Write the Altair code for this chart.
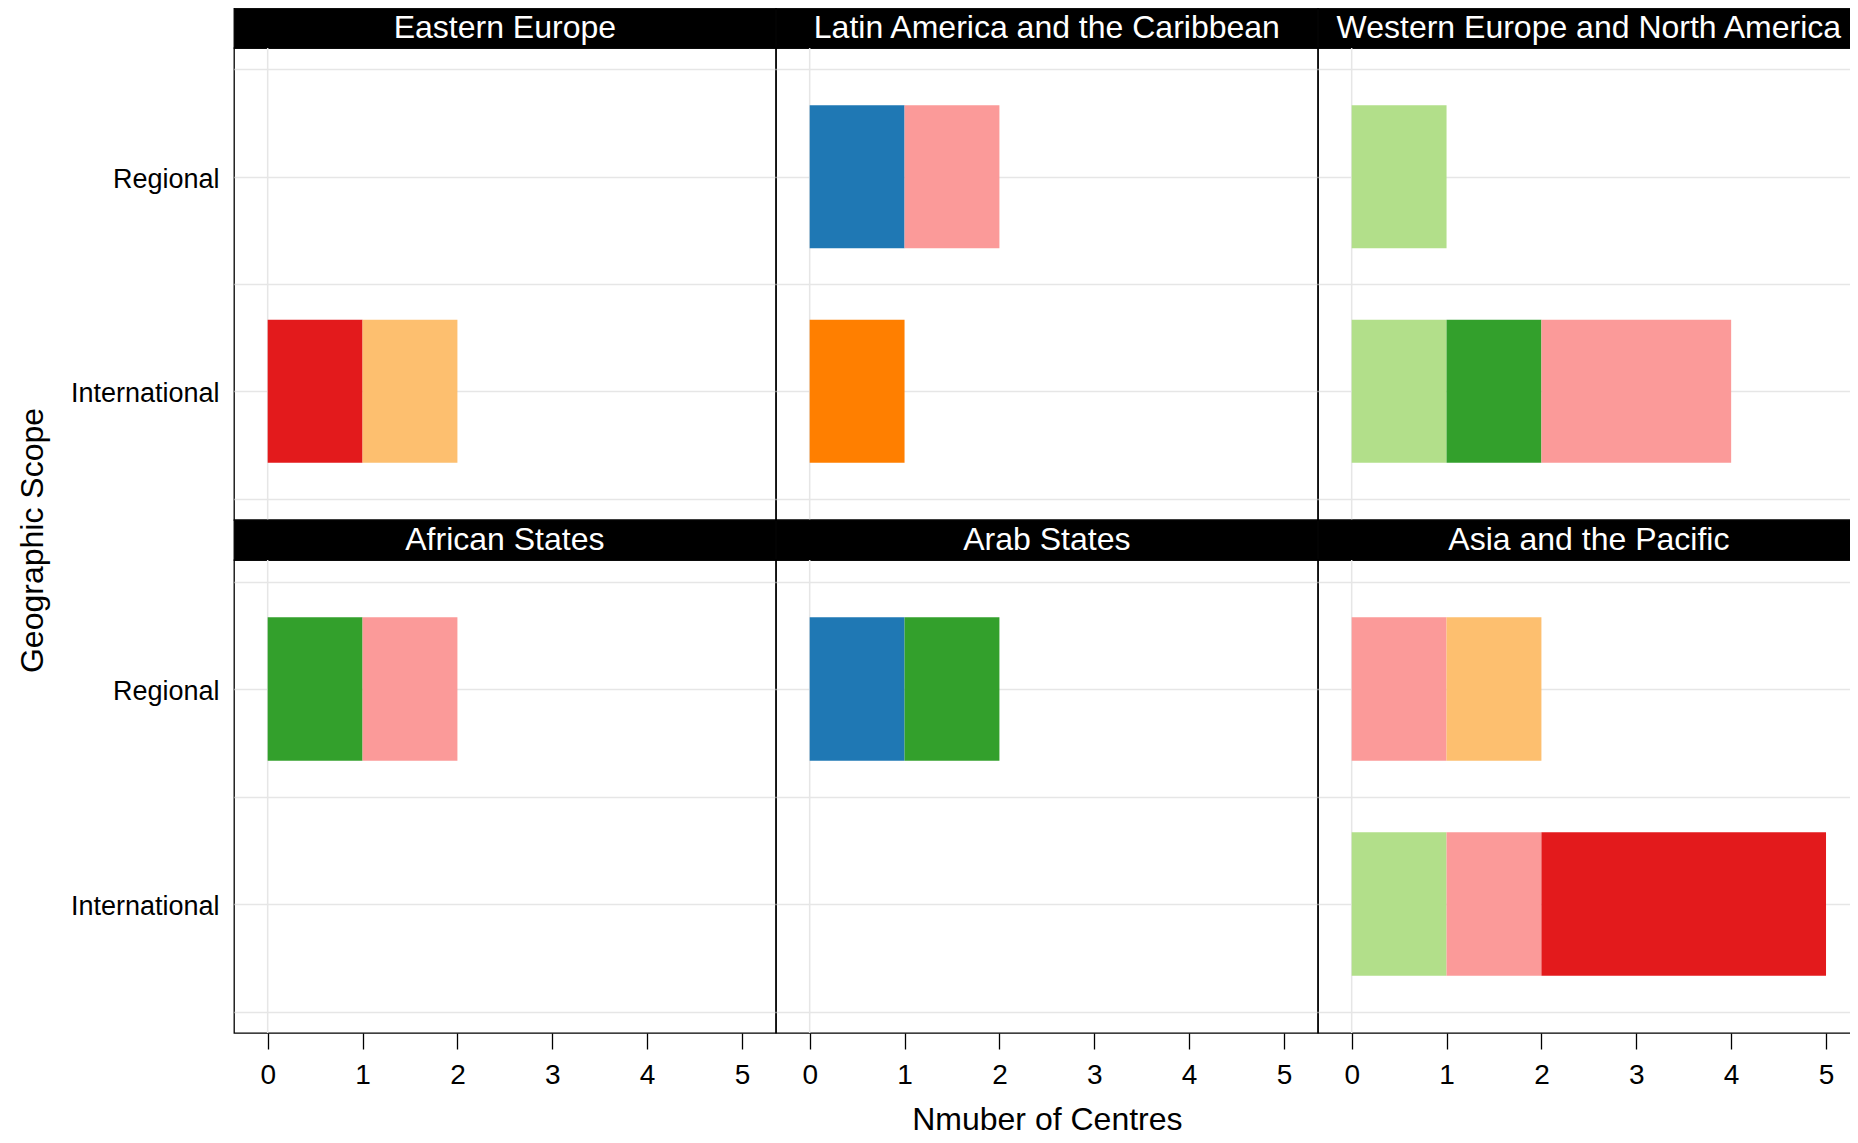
import altair as alt
import pandas as pd

# ---------------- data ----------------
panel_regions = [
    "Eastern Europe", "Latin America and the Caribbean", "Western Europe and North America",
    "African States", "Arab States", "Asia and the Pacific",
]
scopes = ["Regional", "International"]
categories = ["Category 1", "Category 2", "Category 3", "Category 4",
              "Category 5", "Category 6", "Category 7", "Category 8"]
colors = ["#A6CEE3", "#1F78B4", "#B2DF8A", "#33A02C",
          "#FB9A99", "#E31A1C", "#FDBF6F", "#FF7F00"]

seg_region = [
    "Eastern Europe", "Eastern Europe",
    "Latin America and the Caribbean", "Latin America and the Caribbean", "Latin America and the Caribbean",
    "Western Europe and North America", "Western Europe and North America",
    "Western Europe and North America", "Western Europe and North America",
    "African States", "African States",
    "Arab States", "Arab States",
    "Asia and the Pacific", "Asia and the Pacific", "Asia and the Pacific",
    "Asia and the Pacific", "Asia and the Pacific",
]
seg_scope = [
    "International", "International",
    "Regional", "Regional", "International",
    "Regional", "International", "International", "International",
    "Regional", "Regional",
    "Regional", "Regional",
    "Regional", "Regional", "International", "International", "International",
]
seg_category = [6, 7, 2, 5, 8, 3, 3, 4, 5, 4, 5, 2, 4, 5, 7, 3, 5, 6]
seg_count = [1, 1, 1, 1, 1, 1, 1, 1, 2, 1, 1, 1, 1, 1, 1, 1, 1, 3]

x_ticks = [0, 1, 2, 3, 4, 5]
x_domain = [-0.355, 5.355]
grid_levels = [0.5, 1, 1.5, 2, 2.5]
y_domain_num = [0.4, 2.6]

df = pd.DataFrame({
    "region": seg_region,
    "scope": seg_scope,
    "category": [categories[i - 1] for i in seg_category],
    "corder": seg_category,
    "count": seg_count,
})

W = 541.7
H_STRIP = 40
H_PLOT_TOP = 472
H_PLOT_BOTTOM = 473
FONT = "Liberation Sans"
SVG_W = 1842
SVG_H = 1127
LEFT = 226


def strip_cell(region):
    return (
        alt.Chart(alt.Data(values=[{"region": region}]))
        .mark_text(color="white", fontSize=32, baseline="alphabetic", align="center", font=FONT)
        .encode(text="region:N", x=alt.value(W / 2), y=alt.value(30))
        .properties(width=W, height=H_STRIP,
                    view=alt.ViewBackground(fill="black", stroke="black"))
    )


def plot_cell(region, left, bottom, xtitle=False, ytitle=False):
    xscale = alt.Scale(domain=x_domain, nice=False, zero=False)
    if bottom:
        xaxis = alt.Axis(values=x_ticks, grid=False, domain=False, ticks=True,
                         tickSize=16, tickColor="black", tickWidth=1.3,
                         labelFontSize=28, labelPadding=12, labelColor="black",
                         labelFont=FONT,
                         title="Nmuber of Centres" if xtitle else None,
                         titleFontSize=32, titleFontWeight="normal", titleColor="black",
                         titleFont=FONT, titleBaseline="alphabetic", titleY=96)
    else:
        xaxis = None

    if left:
        if ytitle:
            yaxis = alt.Axis(ticks=False, domain=False, grid=False, labelFontSize=27,
                             labelPadding=15, labelColor="black", labelFont=FONT,
                             labelOffset=3,
                             title="Geographic Scope", titleFontSize=32,
                             titleFontWeight="normal", titleColor="black", titleFont=FONT,
                             titleAngle=270, titleBaseline="alphabetic", titleAlign="center",
                             titleX=-192, titleY=-20)
        else:
            yaxis = alt.Axis(ticks=False, domain=False, grid=False, labelFontSize=27,
                             labelPadding=15, labelColor="black", labelFont=FONT,
                             labelOffset=3, title=None)
    else:
        yaxis = None

    grid = (
        alt.Chart(alt.Data(values=[{"ref": 0}]))
        .mark_rule(color="#e6e6e6", strokeWidth=1.5)
        .encode(
            x=alt.XDatum(0, type="quantitative", scale=xscale, axis=xaxis),
            y=alt.YDatum(y_domain_num[0], type="quantitative",
                         scale=alt.Scale(domain=y_domain_num, nice=False, zero=False),
                         axis=alt.Axis(orient="right", values=grid_levels, grid=True,
                                       gridColor="#e6e6e6", gridWidth=1.5, labels=False,
                                       ticks=False, domain=False, title=None)),
            y2=alt.Y2Datum(y_domain_num[1]),
        )
    )
    bars = (
        alt.Chart(df)
        .transform_filter(alt.datum.region == region)
        .mark_bar()
        .encode(
            x=alt.X("count:Q", stack="zero", scale=xscale, axis=xaxis),
            y=alt.Y("scope:N", scale=alt.Scale(domain=scopes, paddingInner=1 / 3,
                                               paddingOuter=0.2667), axis=yaxis),
            color=alt.Color("category:N", scale=alt.Scale(domain=categories, range=colors),
                            legend=None),
            order=alt.Order("corder:Q", sort="ascending"),
        )
    )
    h = H_PLOT_BOTTOM if bottom else H_PLOT_TOP
    return alt.layer(grid, bars).resolve_scale(y="independent").properties(width=W, height=h)


row1 = panel_regions[:3]
row2 = panel_regions[3:]
cells = (
    [strip_cell(r) for r in row1]
    + [plot_cell(r, left=(i == 0), bottom=False) for i, r in enumerate(row1)]
    + [strip_cell(r) for r in row2]
    + [plot_cell(r, left=(i == 0), bottom=True, xtitle=(i == 1), ytitle=(i == 0))
       for i, r in enumerate(row2)]
)

chart = (
    alt.concat(*cells, columns=3, spacing=0, bounds="flush", align="each")
    .properties(
        autosize=alt.AutoSizeParams(type="none"),
        padding={"left": LEFT, "top": 0, "right": SVG_W - LEFT, "bottom": SVG_H},
    )
    .configure(font=FONT, background="white")
    .configure_view(stroke="black", strokeWidth=1.3)
)

chart.save("out.html", embed_options={"renderer": "svg", "actions": False})
